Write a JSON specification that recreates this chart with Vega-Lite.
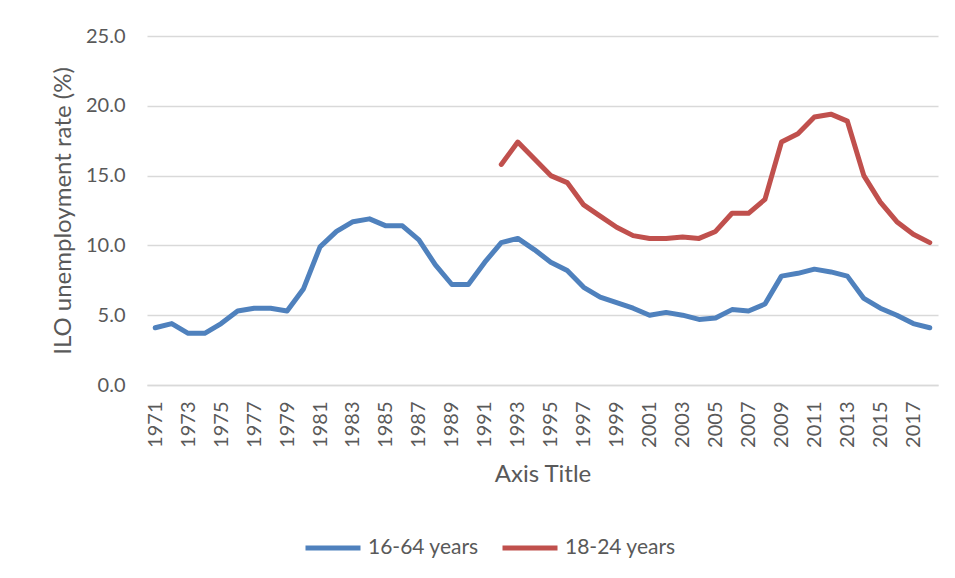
{
  "$schema": "https://vega.github.io/schema/vega-lite/v6.json",
  "width": 791,
  "height": 349,
  "autosize": {"type": "none"},
  "padding": {"left": 147, "top": 36, "right": 17, "bottom": 193},
  "background": "white",
  "config": {
    "font": "Lato",
    "view": {"stroke": null},
    "axis": {"labelColor": "#595959", "titleColor": "#595959", "labelFont": "Lato", "titleFont": "Lato", "titleFontWeight": "normal"}
  },
  "data": {
    "values": [
      {"year": "1971", "series": "16-64 years", "value": 4.1},
      {"year": "1972", "series": "16-64 years", "value": 4.4},
      {"year": "1973", "series": "16-64 years", "value": 3.7},
      {"year": "1974", "series": "16-64 years", "value": 3.7},
      {"year": "1975", "series": "16-64 years", "value": 4.4},
      {"year": "1976", "series": "16-64 years", "value": 5.3},
      {"year": "1977", "series": "16-64 years", "value": 5.5},
      {"year": "1978", "series": "16-64 years", "value": 5.5},
      {"year": "1979", "series": "16-64 years", "value": 5.3},
      {"year": "1980", "series": "16-64 years", "value": 6.9},
      {"year": "1981", "series": "16-64 years", "value": 9.9},
      {"year": "1982", "series": "16-64 years", "value": 11.0},
      {"year": "1983", "series": "16-64 years", "value": 11.7},
      {"year": "1984", "series": "16-64 years", "value": 11.9},
      {"year": "1985", "series": "16-64 years", "value": 11.4},
      {"year": "1986", "series": "16-64 years", "value": 11.4},
      {"year": "1987", "series": "16-64 years", "value": 10.4},
      {"year": "1988", "series": "16-64 years", "value": 8.6},
      {"year": "1989", "series": "16-64 years", "value": 7.2},
      {"year": "1990", "series": "16-64 years", "value": 7.2},
      {"year": "1991", "series": "16-64 years", "value": 8.8},
      {"year": "1992", "series": "16-64 years", "value": 10.2},
      {"year": "1993", "series": "16-64 years", "value": 10.5},
      {"year": "1994", "series": "16-64 years", "value": 9.7},
      {"year": "1995", "series": "16-64 years", "value": 8.8},
      {"year": "1996", "series": "16-64 years", "value": 8.2},
      {"year": "1997", "series": "16-64 years", "value": 7.0},
      {"year": "1998", "series": "16-64 years", "value": 6.3},
      {"year": "1999", "series": "16-64 years", "value": 5.9},
      {"year": "2000", "series": "16-64 years", "value": 5.5},
      {"year": "2001", "series": "16-64 years", "value": 5.0},
      {"year": "2002", "series": "16-64 years", "value": 5.2},
      {"year": "2003", "series": "16-64 years", "value": 5.0},
      {"year": "2004", "series": "16-64 years", "value": 4.7},
      {"year": "2005", "series": "16-64 years", "value": 4.8},
      {"year": "2006", "series": "16-64 years", "value": 5.4},
      {"year": "2007", "series": "16-64 years", "value": 5.3},
      {"year": "2008", "series": "16-64 years", "value": 5.8},
      {"year": "2009", "series": "16-64 years", "value": 7.8},
      {"year": "2010", "series": "16-64 years", "value": 8.0},
      {"year": "2011", "series": "16-64 years", "value": 8.3},
      {"year": "2012", "series": "16-64 years", "value": 8.1},
      {"year": "2013", "series": "16-64 years", "value": 7.8},
      {"year": "2014", "series": "16-64 years", "value": 6.2},
      {"year": "2015", "series": "16-64 years", "value": 5.5},
      {"year": "2016", "series": "16-64 years", "value": 5.0},
      {"year": "2017", "series": "16-64 years", "value": 4.4},
      {"year": "2018", "series": "16-64 years", "value": 4.1},
      {"year": "1992", "series": "18-24 years", "value": 15.8},
      {"year": "1993", "series": "18-24 years", "value": 17.4},
      {"year": "1994", "series": "18-24 years", "value": 16.2},
      {"year": "1995", "series": "18-24 years", "value": 15.0},
      {"year": "1996", "series": "18-24 years", "value": 14.5},
      {"year": "1997", "series": "18-24 years", "value": 12.9},
      {"year": "1998", "series": "18-24 years", "value": 12.1},
      {"year": "1999", "series": "18-24 years", "value": 11.3},
      {"year": "2000", "series": "18-24 years", "value": 10.7},
      {"year": "2001", "series": "18-24 years", "value": 10.5},
      {"year": "2002", "series": "18-24 years", "value": 10.5},
      {"year": "2003", "series": "18-24 years", "value": 10.6},
      {"year": "2004", "series": "18-24 years", "value": 10.5},
      {"year": "2005", "series": "18-24 years", "value": 11.0},
      {"year": "2006", "series": "18-24 years", "value": 12.3},
      {"year": "2007", "series": "18-24 years", "value": 12.3},
      {"year": "2008", "series": "18-24 years", "value": 13.3},
      {"year": "2009", "series": "18-24 years", "value": 17.4},
      {"year": "2010", "series": "18-24 years", "value": 18.0},
      {"year": "2011", "series": "18-24 years", "value": 19.2},
      {"year": "2012", "series": "18-24 years", "value": 19.4},
      {"year": "2013", "series": "18-24 years", "value": 18.9},
      {"year": "2014", "series": "18-24 years", "value": 15.0},
      {"year": "2015", "series": "18-24 years", "value": 13.1},
      {"year": "2016", "series": "18-24 years", "value": 11.7},
      {"year": "2017", "series": "18-24 years", "value": 10.8},
      {"year": "2018", "series": "18-24 years", "value": 10.2}
    ]
  },
  "mark": {"type": "line", "strokeWidth": 5, "strokeCap": "round", "strokeJoin": "round"},
  "encoding": {
    "x": {
      "field": "year",
      "type": "ordinal",
      "scale": {"type": "point", "padding": 0.5},
      "axis": {
        "title": "Axis Title",
        "titleFontSize": 24,
        "titlePadding": 15,
        "labelFontSize": 20,
        "labelAngle": -90,
        "labelPadding": 16,
        "ticks": false,
        "grid": false,
        "domainColor": "#d9d9d9",
        "domainWidth": 1.5,
        "values": ["1971","1973","1975","1977","1979","1981","1983","1985","1987","1989","1991","1993","1995","1997","1999","2001","2003","2005","2007","2009","2011","2013","2015","2017"]
      }
    },
    "y": {
      "field": "value",
      "type": "quantitative",
      "scale": {"domain": [0, 25], "nice": false},
      "axis": {
        "title": "ILO unemployment rate (%)",
        "titleFontSize": 24,
        "titlePadding": 10,
        "labelFontSize": 20,
        "labelPadding": 22,
        "ticks": false,
        "domain": false,
        "format": ".1f",
        "values": [0, 5, 10, 15, 20, 25],
        "gridColor": "#d9d9d9",
        "gridWidth": 1.5
      }
    },
    "color": {
      "field": "series",
      "type": "nominal",
      "scale": {"domain": ["16-64 years", "18-24 years"], "range": ["#4f81bd", "#c0504d"]},
      "legend": {
        "title": null,
        "orient": "none",
        "direction": "horizontal",
        "legendX": 156,
        "legendY": 482,
        "padding": 0,
        "symbolType": "stroke",
        "symbolSize": 3025,
        "symbolStrokeWidth": 5,
        "labelFontSize": 21,
        "labelColor": "#595959",
        "labelFont": "Lato",
        "labelOffset": 5,
        "columnPadding": 13
      }
    }
  }
}
